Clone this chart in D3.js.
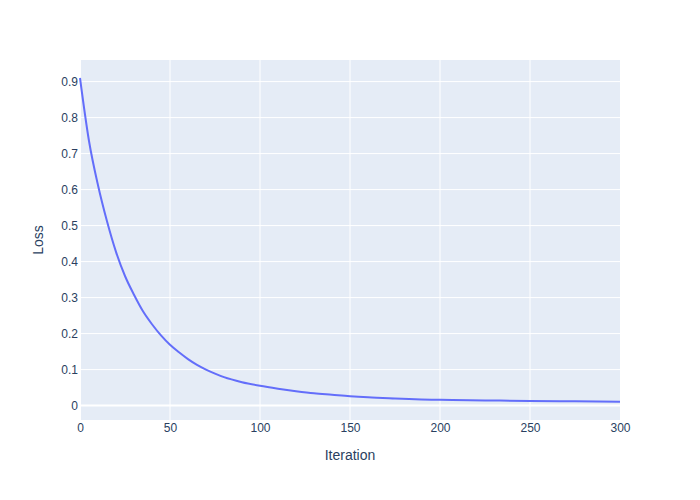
<!DOCTYPE html>
<html><head><meta charset="utf-8">
<script src="https://cdn.jsdelivr.net/npm/d3@7"></script>
<style>body{margin:0;background:#fff}svg{display:block}</style>
</head><body>
<script>
const iterations = [0,5,10,15,20,25,30,35,40,45,50,55,60,65,70,75,80,90,100,110,120,130,140,150,160,175,200,225,250,275,300];
const loss = [0.910,0.735,0.612,0.512,0.427,0.360,0.308,0.262,0.226,0.195,0.169,0.148,0.129,0.113,0.100,0.089,0.079,0.065,0.055,0.047,0.040,0.034,0.030,0.026,0.023,0.020,0.016,0.0145,0.013,0.012,0.011];
const xTicks = [0,50,100,150,200,250,300];
const yTicks = [0,0.1,0.2,0.3,0.4,0.5,0.6,0.7,0.8,0.9];
const xTitle = "Iteration", yTitle = "Loss";

const W=700,H=500,m={l:80,r:80,t:60,b:80};
const font='"Liberation Sans", Arial, sans-serif';
const svg=d3.select("body").append("svg").attr("width",W).attr("height",H);
const x=d3.scaleLinear().domain([0,300]).range([m.l,W-m.r]);
const y=d3.scaleLinear().domain([-0.04,0.96]).range([H-m.b,m.t]);

svg.append("rect").attr("x",m.l).attr("y",m.t).attr("width",W-m.l-m.r).attr("height",H-m.t-m.b).attr("fill","#E5ECF6");

const gx=svg.append("g").attr("transform",`translate(0,${H-m.b})`)
  .call(d3.axisBottom(x).tickValues(xTicks).tickSize(0).tickPadding(0).tickFormat(d3.format("d")));
gx.select(".domain").remove();
gx.selectAll("text").attr("y",8).attr("dy","0.32em").style("font-family",font).style("font-size","12px").attr("fill","#2a3f5f");
svg.append("g").selectAll("line").data(xTicks.filter(d=>d>0&&d<300)).join("line")
  .attr("x1",d=>x(d)).attr("x2",d=>x(d)).attr("y1",m.t).attr("y2",H-m.b).attr("stroke","#fff").attr("stroke-width",1);

const gy=svg.append("g").attr("transform",`translate(${m.l},0)`)
  .call(d3.axisLeft(y).tickValues(yTicks).tickSize(0).tickPadding(0).tickFormat(d=>d===0?"0":d3.format(".1f")(d)));
gy.select(".domain").remove();
gy.selectAll("text").attr("x",-2).attr("dy","0.32em").style("font-family",font).style("font-size","12px").attr("fill","#2a3f5f");
svg.append("g").selectAll("line").data(yTicks.filter(d=>d>0)).join("line")
  .attr("x1",m.l).attr("x2",W-m.r).attr("y1",d=>y(d)).attr("y2",d=>y(d)).attr("stroke","#fff").attr("stroke-width",1);
svg.append("line").attr("x1",m.l).attr("x2",W-m.r).attr("y1",y(0)).attr("y2",y(0)).attr("stroke","#fff").attr("stroke-width",2);
svg.append("line").attr("x1",x(0)).attr("x2",x(0)).attr("y1",m.t).attr("y2",H-m.b).attr("stroke","#fff").attr("stroke-width",2);

const line=d3.line().x((d,i)=>x(iterations[i])).y(d=>y(d)).curve(d3.curveMonotoneX);
svg.append("path").datum(loss).attr("d",line).attr("fill","none").attr("stroke","#636efa").attr("stroke-width",2).attr("stroke-linejoin","round");

svg.append("text").attr("x",(m.l+W-m.r)/2).attr("y",460).attr("text-anchor","middle")
  .style("font-family",font).style("font-size","14px").attr("fill","#2a3f5f").text(xTitle);
svg.append("text").attr("transform",`translate(43,${(m.t+H-m.b)/2}) rotate(-90)`).attr("text-anchor","middle")
  .style("font-family",font).style("font-size","14px").attr("fill","#2a3f5f").text(yTitle);
</script>
</body></html>
